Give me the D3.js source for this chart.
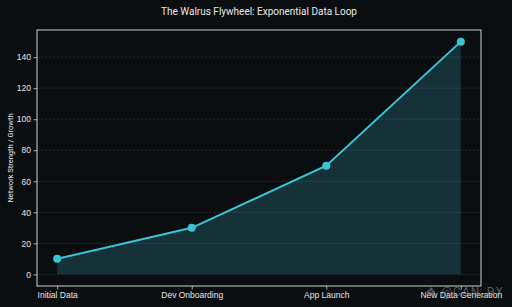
<!DOCTYPE html>
<html>
<head>
<meta charset="utf-8">
<script src="https://cdn.jsdelivr.net/npm/d3@7"></script>
<style>
  html, body { margin: 0; padding: 0; background: #0b0e11; }
  svg { display: block; font-family: "Roboto", "DejaVu Sans", sans-serif; }
</style>
</head>
<body>
<svg id="chart" width="512" height="307"></svg>
<script>
// Datos del gráfico
const stages = ["Initial Data", "Dev Onboarding", "App Launch", "New Data Generation"];
const growth = [10, 30, 70, 150];
const yTicks = [0, 20, 40, 60, 80, 100, 120, 140];

const width = 512, height = 307;
const margin = { top: 30, right: 31, bottom: 21, left: 37 };
const innerW = width - margin.left - margin.right;
const innerH = height - margin.top - margin.bottom;

const svg = d3.select("#chart");
svg.append("rect").attr("width", width).attr("height", height).attr("fill", "#0b0e11");

const g = svg.append("g").attr("transform", `translate(${margin.left},${margin.top})`);

// Escalas con márgenes del 5% como matplotlib
const x = d3.scaleLinear().domain([-0.15, stages.length - 1 + 0.15]).range([0, innerW]);
const y = d3.scaleLinear().domain([-7.5, 157.5]).range([innerH, 0]);

// Rejilla horizontal
g.selectAll(".grid")
  .data(yTicks)
  .enter().append("line")
  .attr("x1", 0).attr("x2", innerW)
  .attr("y1", d => y(d)).attr("y2", d => y(d))
  .attr("stroke", "#5a5f66")
  .attr("stroke-opacity", 0.6)
  .attr("stroke-width", 0.6)
  .attr("stroke-dasharray", "2.5,1.5");

const data = stages.map((s, i) => ({ i, v: growth[i] }));

// Área bajo la curva
const area = d3.area().x(d => x(d.i)).y0(y(0)).y1(d => y(d.v));
g.append("path").datum(data)
  .attr("d", area)
  .attr("fill", "#3bc4d6")
  .attr("fill-opacity", 0.2);

// Línea
const line = d3.line().x(d => x(d.i)).y(d => y(d.v));
g.append("path").datum(data)
  .attr("d", line)
  .attr("fill", "none")
  .attr("stroke", "#3bc4d6")
  .attr("stroke-width", 2);

g.selectAll(".pt")
  .data(data)
  .enter().append("circle")
  .attr("cx", d => x(d.i)).attr("cy", d => y(d.v))
  .attr("r", 4)
  .attr("fill", "#3bc4d6");

// Ejes
const yAxis = g.append("g")
  .call(d3.axisLeft(y).tickValues(yTicks).tickSize(3.5).tickPadding(2.5));
const xAxis = g.append("g")
  .attr("transform", `translate(0,${innerH})`)
  .call(d3.axisBottom(x).tickValues(stages.map((s, i) => i)).tickFormat(i => stages[i]).tickSize(3.5).tickPadding(2.5));

[yAxis, xAxis].forEach(a => {
  a.select(".domain").remove();
  a.selectAll(".tick line").attr("stroke", "#d0d0d0").attr("stroke-width", 0.8);
  a.selectAll(".tick text").attr("fill", "#e6e6e6").attr("font-size", 8.5);
});

// Marco
g.append("rect")
  .attr("width", innerW).attr("height", innerH)
  .attr("fill", "none")
  .attr("stroke", "#cfcfcf")
  .attr("stroke-width", 1);

// Título
svg.append("text")
  .attr("x", margin.left + innerW / 2).attr("y", 15)
  .attr("text-anchor", "middle")
  .attr("fill", "#e8e8e8")
  .attr("font-size", 10)
  .text("The Walrus Flywheel: Exponential Data Loop");

// Etiqueta del eje Y
svg.append("text")
  .attr("transform", `translate(13,${margin.top + innerH / 2}) rotate(-90)`)
  .attr("text-anchor", "middle")
  .attr("fill", "#e6e6e6")
  .attr("font-size", 7.5)
  .text("Network Strength / Growth");

// Marca de agua
svg.append("text")
  .attr("x", 504).attr("y", 296)
  .attr("text-anchor", "end")
  .attr("fill", "#9a9ea3")
  .attr("fill-opacity", 0.55)
  .attr("font-size", 12)
  .attr("letter-spacing", 1)
  .text("\u2756 @CAN_DX");
</script>
</body>
</html>
